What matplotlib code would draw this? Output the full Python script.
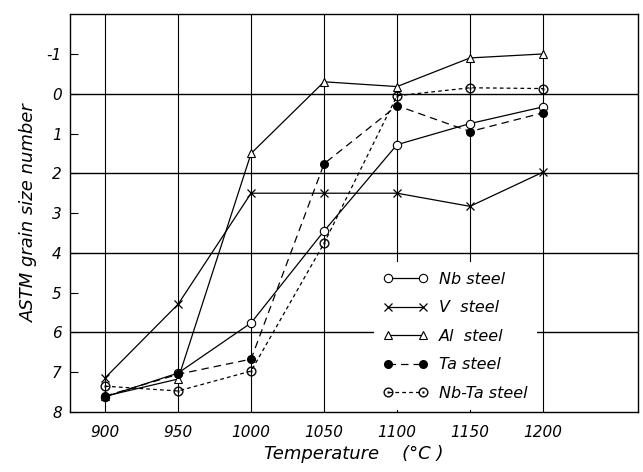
import numpy as np
import matplotlib
matplotlib.use("Agg")
import matplotlib.pyplot as plt

# temperatures (°C)
temps = [900, 950, 1000, 1050, 1100, 1150, 1200]

# ASTM grain size numbers
nb_steel = [7.62, 7.02, 5.76, 3.45, 1.28, 0.75, 0.33]
v_steel = [7.14, 5.29, 2.5, 2.5, 2.5, 2.83, 1.97]
al_steel = [7.6, 7.17, 1.5, -0.3, -0.18, -0.9, -1.0]
ta_steel = [7.6, 7.05, 6.67, 1.76, 0.3, 0.95, 0.48]
nbta_steel = [7.35, 7.47, 6.97, 3.76, 0.05, -0.15, -0.13]

labels = ["Nb steel", "V  steel", "Al  steel", "Ta steel", "Nb-Ta steel"]

plt.rcParams['font.family'] = ['DejaVu Sans']

fig = plt.figure(figsize=(6.43, 4.72), dpi=100)
ax = fig.add_axes([0.109, 0.127, 0.883, 0.843])

lw = 0.9
ax.plot(temps, nb_steel, color='k', lw=lw, marker='o', ms=6, mfc='white',
        mec='k', mew=0.8, label=labels[0], zorder=3)
ax.plot(temps, v_steel, color='k', lw=lw, marker='x', ms=5.5, mew=0.9,
        label=labels[1], zorder=3)
ax.plot(temps, al_steel, color='k', lw=lw, marker='^', ms=6, mfc='white',
        mec='k', mew=0.8, label=labels[2], zorder=3)
ax.plot(temps, ta_steel, color='k', lw=lw, ls=(0, (6, 4)), marker='o', ms=5.5,
        mfc='k', mec='k', label=labels[3], zorder=3)
ax.plot(temps, nbta_steel, color='k', lw=lw, ls=(0, (3, 2.5)),
        marker=r'$\odot$', ms=7, mew=0.2, label=labels[4], zorder=3)

ax.set_xlim(876, 1265)
ax.set_ylim(8, -2)

ax.set_xticks(temps)
ax.set_xticklabels([str(t) for t in temps], fontstyle='italic', fontsize=11)
ax.set_yticks(np.arange(-1, 9, 1))
ax.set_yticklabels([str(v) for v in range(-1, 9)], fontstyle='italic', fontsize=11)
ax.tick_params(axis='x', length=0, pad=9)
ax.tick_params(axis='y', direction='in', length=6, width=0.8, pad=6)

# legend sits below the grid, the 1200 line stays above it
leg = ax.legend(loc='lower right', bbox_to_anchor=(0.826, 0.0), numpoints=2,
                handlelength=2.8, handletextpad=0.7, labelspacing=0.85,
                borderpad=0.6, borderaxespad=0.1, fancybox=False, framealpha=1.0,
                prop={'style': 'italic', 'size': 11.5})
leg.get_frame().set_edgecolor('none')
leg.set_zorder(2)

# grid: vertical every 50 °C, horizontal at even grain sizes
for t in temps:
    ax.axvline(t, color='k', lw=0.8, zorder=1.5 if t < 1200 else 2.5)
for g in [0, 2, 4, 6]:
    ax.axhline(g, color='k', lw=1.0, zorder=1.5)

for s in ax.spines.values():
    s.set_linewidth(1.0)

ax.set_xlabel("Temperature    (°C )", fontstyle='italic', fontsize=13, labelpad=4)
ax.set_ylabel("ASTM grain size number", fontstyle='italic', fontsize=13, labelpad=6)

fig.savefig("out.png", dpi=100)
